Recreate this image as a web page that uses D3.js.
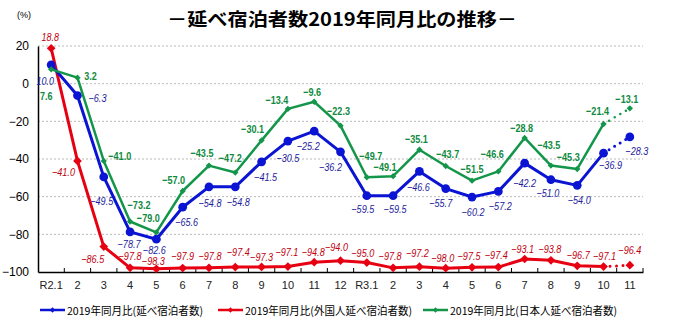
<!DOCTYPE html>
<html>
<head>
<meta charset="utf-8">
<script src="https://cdn.jsdelivr.net/npm/d3@7"></script>
<style>
  body { margin: 0; background: #fff; }
  svg { display: block; }
  text { font-family: "Liberation Sans", Arial, sans-serif; }
  .jp { font-family: "Noto Sans CJK JP", sans-serif; }
</style>
</head>
<body>
<svg id="svg1"></svg>
<script>
var months = ['R2.1','2','3','4','5','6','7','8','9','10','11','12',
  'R3.1','2','3','4','5','6','7','8','9','10','11'];
var yTicks = [20, 0, -20, -40, -60, -80, -100];

var total = [10.0, -6.3, -49.5, -78.7, -82.6, -65.6, -54.8, -54.8, -41.5, -30.5, -25.2, -36.2,
  -59.5, -59.5, -46.6, -55.7, -60.2, -57.2, -42.2, -51.0, -54.0, -36.9, -28.3];
var foreign = [18.8, -41.0, -86.5, -97.8, -98.3, -97.9, -97.8, -97.4, -97.3, -97.1, -94.8, -94.0,
  -95.0, -97.8, -97.2, -98.0, -97.5, -97.4, -93.1, -93.8, -96.7, -97.1, -96.4];
var japanese = [7.6, 3.2, -41.0, -73.2, -79.0, -57.0, -43.5, -47.2, -30.1, -13.4, -9.6, -22.3,
  -49.7, -49.1, -35.1, -43.7, -51.5, -46.6, -28.8, -43.5, -45.3, -21.4, -13.1];

var seriesNames = ['2019年同月比(延べ宿泊者数)', '2019年同月比(外国人延べ宿泊者数)', '2019年同月比(日本人延べ宿泊者数)'];

// label offsets from each point (dx, dy)
var totalLab = [[-6,16],[20,2],[-2,24],[-1,12],[-2,11],[4,15],[1,16],[3,15],[4,15],[0,17],[-6,15],[-10,15],
  [-4,13],[2,13],[-1,16],[-5,14],[1,15],[2,15],[0,20],[-3,13],[2,15],[7,12],[7,14]];
var foreignLab = [[-1,-11],[-14,11],[-11,12],[0,-12],[-3,-8],[0,-12],[1,-12],[3,-15],[0,-10],[-1,-15],[-1,-10],[-4,-14],
  [-4,-10],[-3,-12],[-2,-14],[-3,-10],[-3,-11],[-2,-12],[-2,-10],[-1,-11],[1,-11],[1,-11],[0,-15]];
var japaneseLab = [[-5,27],[13,-2],[16,-5],[9,-17],[-8,-14],[-9,-11],[-7,-13],[-5,-15],[-9,-11],[-11,-9],[-2,-10],[-2,-15],
  [4,-21],[-8,-9],[-3,-11],[2,-12],[0,-12],[-6,-17],[-3,-10],[-2,-21],[-9,-12],[-6,-13],[-3,-9]];

var W = 673, H = 335;
var svg = d3.select('#svg1').attr('width', W).attr('height', H);

var x = d3.scaleBand().domain(d3.range(months.length)).range([38, 643]);
var y = d3.scaleLinear().domain([-100, 20]).range([272, 46]);
var cx = function(i) { return x(i) + x.bandwidth() / 2; };

// title
svg.append('text')
  .attr('class', 'jp')
  .attr('x', 167).attr('y', 26)
  .attr('textLength', 350).attr('lengthAdjust', 'spacingAndGlyphs')
  .style('font-size', '18px').style('font-weight', 'bold')
  .text('－延べ宿泊者数2019年同月比の推移－');

svg.append('text')
  .attr('x', 17).attr('y', 18)
  .style('font-size', '9px')
  .text('(%)');

// grid
svg.append('g').selectAll('line')
  .data(yTicks.filter(function(d) { return d > -100; }))
  .enter().append('line')
  .attr('x1', 38).attr('x2', 643)
  .attr('y1', function(d) { return y(d); }).attr('y2', function(d) { return y(d); })
  .attr('stroke', '#b8b8b8').attr('stroke-width', 1)
  .attr('stroke-dasharray', '2,2');

// axes
var yAxis = svg.append('g')
  .attr('transform', 'translate(38,0)')
  .call(d3.axisLeft(y).tickValues(yTicks).tickSize(0).tickPadding(9));
yAxis.select('.domain').attr('stroke', '#000').attr('stroke-width', 1.5);
yAxis.selectAll('text').style('font-size', '12px').style('font-family', '"Liberation Sans", Arial, sans-serif').attr('fill', '#000');

var xAxis = svg.append('g')
  .attr('transform', 'translate(0,272)')
  .call(d3.axisBottom(x).tickFormat(function(i) { return months[i]; }).tickSize(0).tickPadding(9));
xAxis.select('.domain').attr('stroke', '#000').attr('stroke-width', 1.5);
xAxis.selectAll('text').style('font-size', '11px').style('font-family', '"Liberation Sans", Arial, sans-serif').attr('fill', '#222');

// small tick marks between categories
svg.append('g').selectAll('line')
  .data(d3.range(1, months.length + 1))
  .enter().append('line')
  .attr('x1', function(i) { return x(i - 1) + x.bandwidth(); })
  .attr('x2', function(i) { return x(i - 1) + x.bandwidth(); })
  .attr('y1', 268).attr('y2', 272)
  .attr('stroke', '#000').attr('stroke-width', 1);

var line = d3.line()
  .x(function(d) { return cx(d.i); })
  .y(function(d) { return y(d.v); });

function labelText(v) { return d3.format('.1f')(v).replace('-', '\u2212'); }
// condensed width of a label, like the narrow font of the original
function labelWidth(s) {
  var w = 0;
  for (var k = 0; k < s.length; k++) {
    var c = s[k];
    w += c === '.' ? 2.5 : (c === '\u2212' ? 5.5 : 5);
  }
  return w;
}

function drawSeries(vals, color, width, shape, size, labCol, labs, bold) {
  var pts = vals.map(function(v, i) { return { i: i, v: v }; });
  var n = pts.length;
  svg.append('path')
    .datum(pts.slice(0, n - 1))
    .attr('d', line)
    .attr('fill', 'none').attr('stroke', color).attr('stroke-width', width)
    .attr('stroke-linejoin', 'round');
  svg.append('path')
    .datum(pts.slice(n - 2))
    .attr('d', line)
    .attr('fill', 'none').attr('stroke', color).attr('stroke-width', width)
    .attr('stroke-linecap', 'round').attr('stroke-dasharray', '0,6.5');
  svg.append('g').selectAll('path')
    .data(pts).enter().append('path')
    .attr('d', d3.symbol().type(shape).size(size))
    .attr('transform', function(d) {
      var rot = shape === d3.symbolSquare ? ' rotate(45)' : '';
      return 'translate(' + cx(d.i) + ',' + y(d.v) + ')' + rot;
    })
    .attr('fill', color);
  svg.append('g').selectAll('text')
    .data(pts).enter().append('text')
    .attr('x', function(d) { return cx(d.i) + labs[d.i][0]; })
    .attr('y', function(d) { return y(d.v) + labs[d.i][1]; })
    .attr('text-anchor', 'middle').attr('dominant-baseline', 'central')
    .attr('textLength', function(d) { return labelWidth(labelText(d.v)); })
    .attr('lengthAdjust', 'spacingAndGlyphs')
    .attr('fill', labCol)
    .style('font-size', bold ? '11.5px' : '11px')
    .style('font-weight', bold ? 'bold' : 'normal')
    .style('font-style', bold ? 'normal' : 'italic')
    .text(function(d) { return labelText(d.v); });
}

drawSeries(foreign, '#e60012', 3, d3.symbolSquare, 38, '#c0000f', foreignLab, false);
drawSeries(total, '#0a14d2', 3, d3.symbolCircle, 60, '#1c1c9c', totalLab, false);
drawSeries(japanese, '#13964a', 2.5, d3.symbolSquare, 20, '#108a3e', japaneseLab, true);

// legend
var legColors = ['#0a14d2', '#e60012', '#13964a'];
var legX = [40, 218, 423];
var legW = [136, 167, 167];
var leg = svg.append('g').selectAll('g')
  .data(seriesNames).enter().append('g')
  .attr('transform', function(d, i) { return 'translate(' + legX[i] + ',310)'; });
leg.append('line')
  .attr('x1', 0).attr('x2', 25).attr('y1', 0).attr('y2', 0)
  .attr('stroke', function(d, i) { return legColors[i]; }).attr('stroke-width', 2.5);
leg.append('path')
  .attr('d', d3.symbol().type(d3.symbolSquare).size(14))
  .attr('transform', 'translate(12.5,0) rotate(45)')
  .attr('fill', function(d, i) { return legColors[i]; });
leg.append('text')
  .attr('class', 'jp')
  .attr('x', 27).attr('y', 0)
  .attr('dominant-baseline', 'central')
  .attr('textLength', function(d, i) { return legW[i]; })
  .attr('lengthAdjust', 'spacingAndGlyphs')
  .style('font-size', '11px')
  .text(function(d) { return d; });
</script>
</body>
</html>
